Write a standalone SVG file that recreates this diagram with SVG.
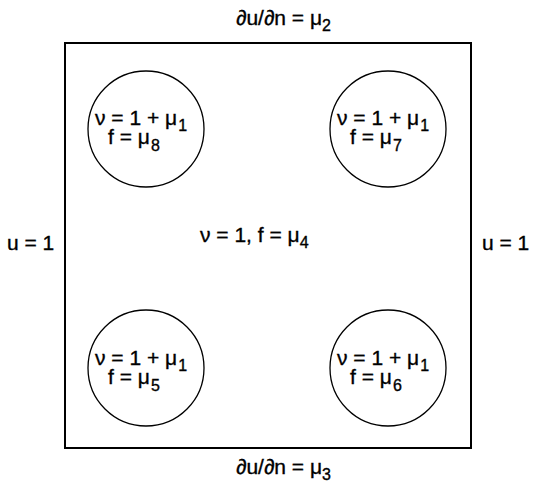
<svg xmlns="http://www.w3.org/2000/svg" width="534" height="489" viewBox="0 0 534 489">
<style>
text{font-family:"Liberation Sans",Arial,sans-serif;font-size:21px;fill:#000;stroke:#000;stroke-width:0.35}
.sub{font-size:16px}
.c{fill:#fff;stroke:#000;stroke-width:1.3}
</style>
<rect width="534" height="489" fill="#fff"/>
<g id="domain"><rect x="65" y="43" width="406" height="405" fill="none" stroke="#000" stroke-width="2"/></g>
<g id="labels">
<text x="236" y="25">∂u/∂n = μ<tspan class="sub" dy="6">2</tspan></text>
<text x="236" y="474">∂u/∂n = μ<tspan class="sub" dy="6">3</tspan></text>
<text x="7" y="250">u = 1</text>
<text x="482" y="250">u = 1</text>
<text x="200" y="242">ν = 1, f = μ<tspan class="sub" dy="6">4</tspan></text>
</g>
<g id="c8"><circle class="c" cx="146" cy="129" r="58"/>
<text><tspan x="95" y="125">ν = 1 + μ</tspan><tspan class="sub" dx="1" dy="6">1</tspan><tspan x="108" y="144">f = μ</tspan><tspan class="sub" dx="1" dy="7">8</tspan></text></g>
<g id="c7"><circle class="c" cx="388" cy="129" r="58"/>
<text><tspan x="337" y="125">ν = 1 + μ</tspan><tspan class="sub" dx="1" dy="6">1</tspan><tspan x="350" y="144">f = μ</tspan><tspan class="sub" dx="1" dy="7">7</tspan></text></g>
<g id="c5"><circle class="c" cx="146" cy="368" r="58"/>
<text><tspan x="95" y="365">ν = 1 + μ</tspan><tspan class="sub" dx="1" dy="6">1</tspan><tspan x="108" y="384">f = μ</tspan><tspan class="sub" dx="1" dy="7">5</tspan></text></g>
<g id="c6"><circle class="c" cx="388" cy="368" r="58"/>
<text><tspan x="337" y="365">ν = 1 + μ</tspan><tspan class="sub" dx="1" dy="6">1</tspan><tspan x="350" y="384">f = μ</tspan><tspan class="sub" dx="1" dy="7">6</tspan></text></g>
</svg>
